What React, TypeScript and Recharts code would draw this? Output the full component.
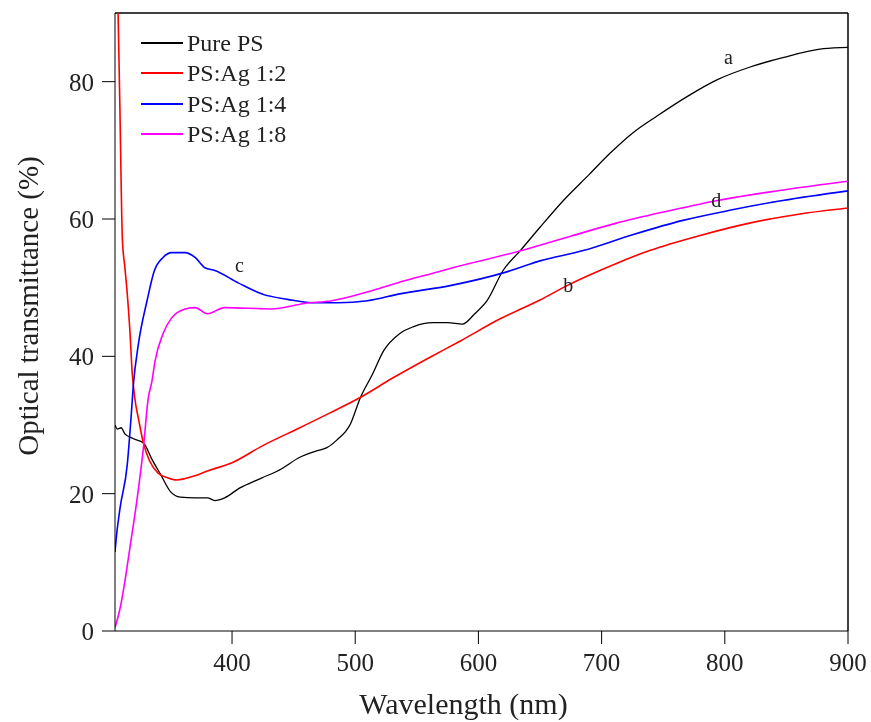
import React from 'react';
import { LineChart, Line, XAxis, YAxis, Legend, ReferenceLine, ReferenceDot } from 'recharts';

// wavelength (nm) and transmittance (%)
const pureNm = [305, 307, 310, 313, 320, 328, 335, 342, 350, 358, 370, 380, 386, 394, 406, 423, 440, 455, 470, 477, 485, 496, 504, 514, 523, 536, 547, 563, 575, 587, 597, 607, 620, 634, 650, 669, 690, 707, 725, 745, 770, 794, 820, 847, 880, 900];
const pureT = [30, 29.4, 29.6, 28.7, 28, 27.4, 25, 22.8, 20.3, 19.5, 19.4, 19.4, 19, 19.4, 20.8, 22.2, 23.6, 25.3, 26.3, 26.7, 27.8, 30.1, 33.9, 37.4, 40.8, 43.3, 44.3, 44.9, 44.9, 44.7, 46.2, 48.1, 52.5, 55.4, 58.8, 62.7, 66.5, 69.6, 72.5, 75, 77.9, 80.3, 82.1, 83.5, 84.8, 85];

const ag2Nm = [306, 307.5, 309, 310, 311, 313, 315, 317, 319, 321, 324.5, 328, 333, 340, 348, 355, 362, 370, 380, 400, 425, 455, 480, 504, 530, 560, 585, 618, 650, 672, 700, 739, 780, 820, 860, 900];
const ag2T = [100, 90, 76, 65, 57, 53, 49, 44, 37.5, 34, 30.5, 27.4, 24.8, 23, 22.3, 22, 22.2, 22.6, 23.3, 24.5, 27, 29.6, 31.8, 34, 36.8, 39.8, 42.2, 45.5, 48.2, 50.3, 52.6, 55.4, 57.6, 59.4, 60.7, 61.6];

const ag4Nm = [305, 306, 309, 315, 318, 320, 324, 331, 337, 344, 351, 362, 370, 378, 386, 405, 424, 445, 465, 486, 510, 536, 577, 623, 650, 685, 725, 766, 805, 847, 900];
const ag4T = [11.5, 13.5, 17.8, 24.3, 31, 36, 41.8, 48.1, 52.5, 54.4, 55.1, 55.1, 54.4, 52.9, 52.5, 50.7, 49.1, 48.3, 47.8, 47.8, 48.1, 49.1, 50.3, 52.3, 53.9, 55.4, 57.7, 59.8, 61.3, 62.7, 64.1];

const ag8Nm = [305, 309, 313, 317, 323, 328, 332, 335, 337.5, 344, 351, 362, 370, 380, 394, 432, 459, 481, 514, 540, 563, 577, 635, 675, 712, 755, 794, 850, 900];
const ag8T = [0.5, 3.2, 7.2, 12, 19.3, 26.6, 33.9, 36.4, 39.3, 43.3, 45.6, 46.9, 47.1, 46.2, 47.1, 46.9, 47.7, 48.1, 49.6, 51, 52.1, 52.8, 55.4, 57.5, 59.4, 61.2, 62.7, 64.3, 65.5];

const seriesNames = ['Pure PS', 'PS:Ag 1:2', 'PS:Ag 1:4', 'PS:Ag 1:8'];
const seriesColors = ['#000000', '#ff0000', '#0000ff', '#ff00ff'];

const xTicks = [400, 500, 600, 700, 800, 900];
const yTicks = [0, 20, 40, 60, 80];

// curve letters placed next to the curves
const letters = ['a', 'b', 'c', 'd'];
const letterNm = [803, 673, 406, 793];
const letterT = [83.6, 50.4, 53.3, 62.8];

const toRows = (nm: number[], t: number[]) => nm.map((x, i) => ({ nm: x, t: t[i] }));

const allSeries = [
  toRows(pureNm, pureT),
  toRows(ag2Nm, ag2T),
  toRows(ag4Nm, ag4T),
  toRows(ag8Nm, ag8T),
];

const font = '"Liberation Serif", "Times New Roman", serif';

const renderLegend = () => (
  <div style={{ fontFamily: font, fontSize: 24, color: '#222' }}>
    {seriesNames.map((name, i) => (
      <div key={name} style={{ display: 'flex', alignItems: 'center', height: 30.3 }}>
        <span style={{ display: 'inline-block', width: 42, height: 0, borderTop: `2px solid ${seriesColors[i]}`, marginRight: 4 }} />
        <span style={{ lineHeight: '30px' }}>{name}</span>
      </div>
    ))}
  </div>
);

const YTitle = (props: any) => {
  const vb = props.viewBox;
  const cx = vb.x + 20;
  const cy = vb.y + vb.height / 2 - 16;
  return (
    <text x={cx} y={cy} transform={`rotate(-90, ${cx}, ${cy})`} textAnchor="middle" dominantBaseline="central"
      style={{ fontFamily: font, fontSize: 29, fill: '#222' }}>
      Optical transmittance (%)
    </text>
  );
};

const XTitle = (props: any) => {
  const vb = props.viewBox;
  return (
    <text x={vb.x + vb.width / 2 - 18} y={vb.y + 83} textAnchor="middle"
      style={{ fontFamily: font, fontSize: 30, fill: '#222' }}>
      Wavelength (nm)
    </text>
  );
};

const App: React.FC = () => {
  return (
    // fixed so the page never grows a scrollbar
    <div style={{ position: 'fixed', left: 8, top: 8 }}>
      <LineChart width={863} height={714} margin={{ top: 5, right: 23, left: 0, bottom: 0 }}>
        <XAxis
          dataKey="nm"
          type="number"
          domain={[305, 900]}
          ticks={xTicks}
          allowDataOverflow
          tickSize={13}
          tickMargin={9}
          height={91}
          stroke="#000"
          tick={{ fill: '#222', fontSize: 25, fontFamily: font }}
          label={<XTitle />}
        />
        <YAxis
          type="number"
          domain={[0, 90]}
          ticks={yTicks}
          allowDataOverflow
          tickSize={13}
          tickMargin={8}
          width={107}
          stroke="#000"
          tick={{ fill: '#222', fontSize: 25, fontFamily: font }}
          label={<YTitle />}
        />
        <ReferenceLine y={90} stroke="#000" strokeWidth={1.5} />
        <ReferenceLine x={900} stroke="#000" strokeWidth={1.5} />
        {allSeries.map((rows, i) => (
          <Line
            key={seriesNames[i]}
            data={rows}
            dataKey="t"
            name={seriesNames[i]}
            type="monotone"
            stroke={seriesColors[i]}
            strokeWidth={i === 0 ? 1.3 : 1.6}
            dot={false}
            isAnimationActive={false}
          />
        ))}
        {letters.map((l, i) => (
          <ReferenceDot
            key={l}
            x={letterNm[i]}
            y={letterT[i]}
            r={0}
            stroke="none"
            label={{ value: l, position: 'center', fill: '#222', fontSize: 20, fontFamily: font }}
          />
        ))}
        <Legend
          layout="vertical"
          align="center"
          verticalAlign="middle"
          content={renderLegend}
          wrapperStyle={{ left: 133, top: 20, width: 'auto' }}
        />
      </LineChart>
    </div>
  );
};

export default App;
